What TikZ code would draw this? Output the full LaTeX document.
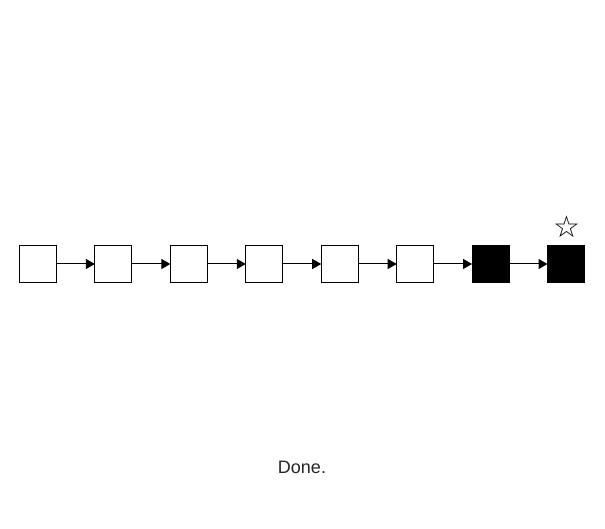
\documentclass[tikz,border=0pt]{standalone}
\usepackage{fontspec}
\setmainfont{Liberation Sans}
\newfontfamily\symfont{DejaVu Sans}
\usetikzlibrary{positioning,arrows.meta}

\begin{document}
\begin{tikzpicture}[x=1pt,y=-1pt,
  cell/.style={draw=black, line width=1pt, minimum size=38pt-\pgflinewidth, inner sep=0pt, outer sep=0pt},
  done/.style={cell, fill=black},
  link/.style={line width=1pt, -{Triangle[length=9pt,width=10pt]}},
  node distance=38.43pt]
\useasboundingbox[fill=white] (0,0) rectangle (605,529);

\node[cell] (c1) at (38,264) {};
\node[cell, right=of c1] (c2) {};
\node[cell, right=of c2] (c3) {};
\node[cell, right=of c3] (c4) {};
\node[cell, right=of c4] (c5) {};
\node[cell, right=of c5] (c6) {};
\node[done, right=of c6] (c7) {};
\node[done, right=of c7] (c8) {};

\draw[link] (c1) -- (c2);
\draw[link] (c2) -- (c3);
\draw[link] (c3) -- (c4);
\draw[link] (c4) -- (c5);
\draw[link] (c5) -- (c6);
\draw[link] (c6) -- (c7);
\draw[link] (c7) -- (c8);

\node[inner sep=0pt, font=\symfont\fontsize{30}{30}\selectfont] (star) at (566.5,227) {☆};
\node[inner sep=0pt, text=black!85, font=\fontsize{18}{18}\selectfont] (msg) at (302,467) {Done.};
\end{tikzpicture}
\end{document}
